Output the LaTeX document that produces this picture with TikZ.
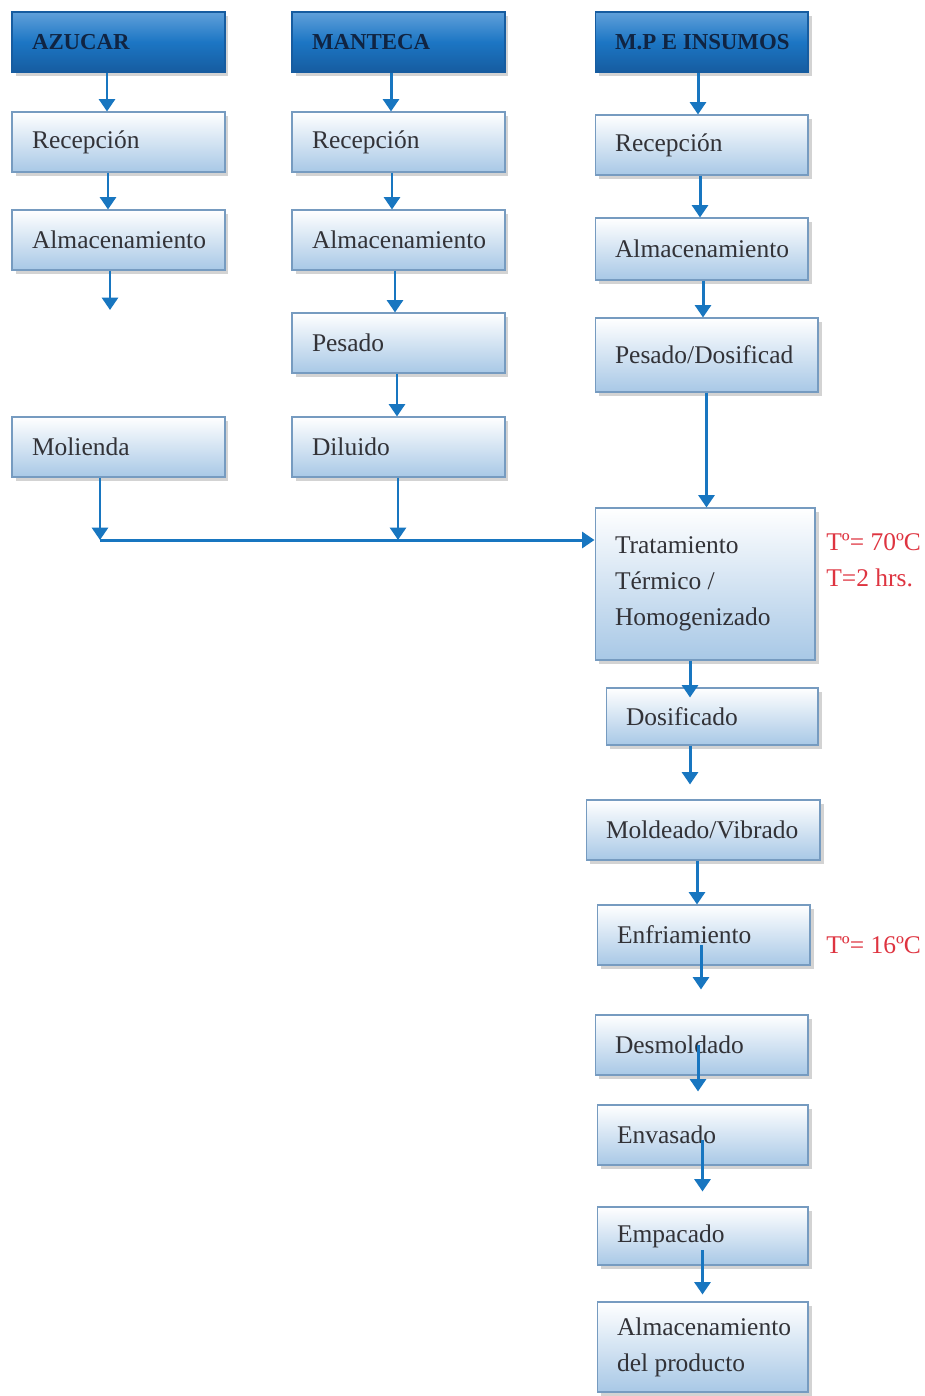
\documentclass[tikz,border=0pt]{standalone}
\usepackage{fontspec}
\setmainfont{Liberation Serif}
\usetikzlibrary{arrows.meta,shadows}
\definecolor{azulflecha}{RGB}{24,118,192}
\definecolor{azulborde}{RGB}{118,155,192}
\definecolor{azulclaro}{RGB}{168,200,230}
\definecolor{azulcab1}{RGB}{96,160,218}
\definecolor{azulcab2}{RGB}{28,118,196}
\definecolor{azulcab3}{RGB}{22,92,160}
\definecolor{textocab}{RGB}{16,36,66}
\definecolor{textocaja}{RGB}{50,50,55}
\definecolor{rojotemp}{RGB}{222,52,64}
\begin{document}
\begin{tikzpicture}[x=0.02cm, y=-0.02cm,
  caja/.style={draw=azulborde, line width=0.6pt, top color=white, bottom color=azulclaro,
    drop shadow={shadow xshift=2pt, shadow yshift=-2.5pt, opacity=0.35},
    minimum width=4.26cm, minimum height=1.2cm, text width=3.46cm, inner xsep=0.4cm,
    align=flush left, font=\fontsize{14.5}{20.4}\selectfont, text=textocaja},
  cabecera/.style={caja, draw=azulcab3, top color=azulcab1, bottom color=azulcab3,
    middle color=azulcab2, font=\bfseries\fontsize{13}{15}\selectfont, text=textocab},
  flecha/.style={draw=azulflecha, line width=1.7pt, -{Triangle[width=9pt,length=7pt]}},
  temp/.style={text=rojotemp, font=\fontsize{14.5}{20.4}\selectfont, anchor=west, inner sep=0pt}]
  \clip (0,0) rectangle (925,1396);
  % azucar
  \node[cabecera] (azucar) at (118.5,42) {AZUCAR};
  \node[caja] (recep1) at (118.5,142) {Recepción};
  \node[caja] (almac1) at (118.5,240) {Almacenamiento};
  \node[caja] (molienda) at (118.5,447) {Molienda};
  % manteca
  \node[cabecera] (manteca) at (398.5,42) {MANTECA};
  \node[caja] (recep2) at (398.5,142) {Recepción};
  \node[caja] (almac2) at (398.5,240) {Almacenamiento};
  \node[caja] (pesado2) at (398.5,343) {Pesado};
  \node[caja] (diluido) at (398.5,447) {Diluido};
  % materia prima e insumos
  \node[cabecera] (mpinsumos) at (701.5,42) {\mbox{M.P E INSUMOS}};
  \node[caja] (recep3) at (701.5,145) {Recepción};
  \node[caja, minimum height=1.24cm] (almac3) at (701.5,249) {Almacenamiento};
  \node[caja, minimum width=4.46cm, text width=3.66cm, minimum height=1.48cm] (pesado3) at (706.5,355) {Pesado/Dosificad};
  \node[caja, minimum width=4.4cm, text width=3.6cm, minimum height=3.04cm] (tratam) at (705,584)
    {Tratamiento\\Térmico /\\Homogenizado};
  \node[caja, minimum width=4.24cm, text width=3.44cm, minimum height=1.14cm] (dosif) at (712,716.5) {Dosificado};
  \node[caja, minimum width=4.68cm, text width=3.88cm] (moldeado) at (703,830) {Moldeado/Vibrado};
  \node[caja] (enfria) at (703.5,935) {Enfriamiento};
  \node[caja] (desmol) at (701.5,1045) {Desmoldado};
  \node[caja, minimum width=4.22cm, text width=3.42cm] (envasa) at (702.5,1135) {Envasado};
  \node[caja, minimum width=4.22cm, text width=3.42cm, minimum height=1.16cm] (empaca) at (702.5,1236) {Empacado};
  \node[caja, minimum width=4.22cm, text width=3.42cm, minimum height=1.8cm] (almprod) at (702.5,1347)
    {Almacenamiento\\del producto};
  % temperaturas
  \node[temp] (temp1) at (826,542) {Tº= 70ºC};
  \node[temp] (tiempo1) at (826,578) {T=2 hrs.};
  \node[temp] (temp2) at (826,945) {Tº= 16ºC};
  % flechas
  \coordinate (libre1) at (110,310);
  \coordinate (j1) at (100,540);
  \coordinate (j2) at (398,540);
  \draw[flecha] ([xshift=-0.23cm]azucar.south) coordinate (p) -- (p |- recep1.north);
  \draw[flecha] ([xshift=-0.21cm]recep1.south) coordinate (p) -- (p |- almac1.north);
  \draw[flecha] (almac1.south -| libre1) -- (libre1);
  \draw[flecha] ([xshift=-0.15cm]manteca.south) coordinate (p) -- (p |- recep2.north);
  \draw[flecha] ([xshift=-0.13cm]recep2.south) coordinate (p) -- (p |- almac2.north);
  \draw[flecha] ([xshift=-0.07cm]almac2.south) coordinate (p) -- (p |- pesado2.north);
  \draw[flecha] ([xshift=-0.03cm]pesado2.south) coordinate (p) -- (p |- diluido.north);
  \draw[flecha] (molienda.south -| j1) -- (j1);
  \draw[flecha] (diluido.south -| j2) -- (j2);
  \draw[flecha] (j1) -- (j1 -| tratam.west);
  \draw[flecha] ([xshift=-0.07cm]mpinsumos.south) coordinate (p) -- (p |- recep3.north);
  \draw[flecha] ([xshift=-0.03cm]recep3.south) coordinate (p) -- (p |- almac3.north);
  \draw[flecha] ([xshift=0.03cm]almac3.south) coordinate (p) -- (p |- pesado3.north);
  \draw[flecha] (pesado3.south) -- (pesado3.south |- tratam.north);
  \draw[flecha] ([xshift=-0.3cm]tratam.south) coordinate (p) -- ([yshift=-0.2cm]p |- dosif.north);
  \draw[flecha] ([xshift=-0.44cm]dosif.south) coordinate (p) -- ([yshift=0.3cm]p |- moldeado.north);
  \draw[flecha] ([xshift=-0.12cm]moldeado.south) coordinate (p) -- (p |- enfria.north);
  \draw[flecha] ([xshift=-0.05cm,yshift=-0.2cm]enfria.center) coordinate (p) -- ([yshift=0.5cm]p |- desmol.north);
  \draw[flecha] ([xshift=-0.07cm]desmol.center) coordinate (p) -- ([yshift=0.26cm]p |- envasa.north);
  \draw[flecha] ([yshift=-0.1cm]envasa.center) coordinate (p) -- ([yshift=0.3cm]p |- empaca.north);
  \draw[flecha] ([yshift=-0.28cm]empaca.center) coordinate (p) -- ([yshift=0.14cm]p |- almprod.north);
\end{tikzpicture}
\end{document}
